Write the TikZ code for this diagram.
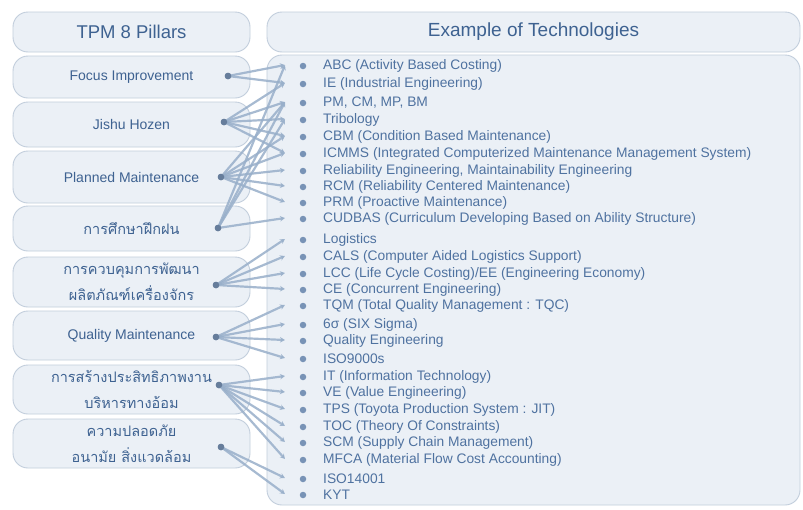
\documentclass[tikz,border=0pt]{standalone}
\usepackage{fontspec}
\setmainfont{Liberation Sans}
\newfontfamily\thaifont[Script=Thai]{Loma}
\usetikzlibrary{arrows.meta}
\definecolor{boxfill}{HTML}{EBF0F6}
\definecolor{boxline}{HTML}{C2CEDC}
\definecolor{headtext}{HTML}{3E6291}
\definecolor{itemtext}{HTML}{4F72A0}
\definecolor{linkc}{HTML}{98AFCA}
\definecolor{dotc}{HTML}{7893B6}
\tikzset{
  pillar/.style={draw=boxline, fill=boxfill, line width=0.9pt, rounded corners=15pt,
    minimum width=237pt, inner sep=0pt, text=headtext, align=center,
    font=\fontsize{14}{16}\selectfont},
  thaibox/.style={pillar, font=\thaifont\fontsize{14.5}{26}\selectfont},
  headbox/.style={pillar, font=\fontsize{18.5}{21}\selectfont},
  item/.style={anchor=west, inner sep=0pt, text=itemtext, font=\fontsize{13.8}{15}\selectfont},
  bulletdot/.style={circle, fill=dotc, minimum size=6.5pt, inner sep=0pt},
  pdot/.style={circle, fill=dotc!85!black, minimum size=6.5pt, inner sep=0pt},
  link/.style={draw=linkc, line width=2.2pt, opacity=0.85, -{Stealth[length=5pt,width=5.5pt]}}
}
\begin{document}
\begin{tikzpicture}[x=1pt,y=-1pt]
\useasboundingbox (0,0) rectangle (803,509);
\fill[white] (0,0) rectangle (803,509);
% right panels
\node[headbox, font=\fontsize{19}{21}\selectfont, minimum width=533pt, minimum height=40pt] (hr) at (533.5,32) {Example of Technologies};
\node[pillar, minimum width=533pt, minimum height=450pt] (body) at (533.5,280) {};
% left panels
\node[headbox, minimum height=40pt] (hl) at (131.5,32) {TPM 8 Pillars};
\node[pillar, minimum height=42pt] (p1) at (131.5,77) {Focus Improvement};
\node[pillar, minimum height=45pt] (p2) at (131.5,124.5) {Jishu Hozen};
\node[pillar, minimum height=52pt] (p3) at (131.5,177) {Planned Maintenance};
\node[thaibox, minimum height=45pt] (p4) at (131.5,228.5) {การศึกษาฝึกฝน};
\node[thaibox, minimum height=50pt] (p5) at (131.5,282) {การควบคุมการพัฒนา\\ผลิตภัณฑ์เครื่องจักร};
\node[pillar, minimum height=49pt] (p6) at (131.5,335.5) {Quality Maintenance};
\node[thaibox, minimum height=49pt] (p7) at (131.5,389.5) {การสร้างประสิทธิภาพงาน\\บริหารทางอ้อม};
\node[thaibox, minimum height=49pt] (p8) at (131.5,443.5) {ความปลอดภัย\\อนามัย สิ่งแวดล้อม};
% items
\foreach \n/\y/\t in {
  abc/66/{ABC (Activity Based Costing)},
  ie/84/{IE (Industrial Engineering)},
  pm/103/{PM, CM, MP, BM},
  trib/120/{Tribology},
  cbm/137/{CBM (Condition Based Maintenance)},
  icmms/154/{ICMMS (Integrated Computerized Maintenance Management System)},
  rel/171/{Reliability Engineering, Maintainability Engineering},
  rcm/187/{RCM (Reliability Centered Maintenance)},
  prm/203/{PRM (Proactive Maintenance)},
  cudbas/219/{CUDBAS (Curriculum Developing Based on Ability Structure)},
  log/240/{Logistics},
  cals/257/{CALS (Computer Aided Logistics Support)},
  lcc/274/{LCC (Life Cycle Costing)/EE (Engineering Economy)},
  ce/290/{CE (Concurrent Engineering)},
  tqm/306/{TQM (Total Quality Management : TQC)},
  six/325/{6σ (SIX Sigma)},
  qe/341/{Quality Engineering},
  isoa/359/{ISO9000s},
  it/377/{IT (Information Technology)},
  ve/393/{VE (Value Engineering)},
  tps/410/{TPS (Toyota Production System : JIT)},
  toc/427/{TOC (Theory Of Constraints)},
  scm/443/{SCM (Supply Chain Management)},
  mfca/460/{MFCA (Material Flow Cost Accounting)},
  isob/479/{ISO14001},
  kyt/495/{KYT}}{
  \node[bulletdot] (\n-b) at (303,\y) {};
  \node[item] (\n) at (323,\y) {\t};
  \coordinate (\n-e) at (285,\y-1);
}
% pillar dots
\node[pdot] (d1) at (228,76) {};
\node[pdot] (d2) at (224,122) {};
\node[pdot] (d3) at (221,177) {};
\node[pdot] (d4) at (218,228) {};
\node[pdot] (d5) at (216,285) {};
\node[pdot] (d6) at (216,337) {};
\node[pdot] (d7) at (219,385) {};
\node[pdot] (d8) at (221,447) {};
% links
\foreach \s/\ts in {
  d1/{abc,ie},
  d2/{ie,pm,trib,cbm,icmms},
  d3/{pm,cbm,icmms,rel,rcm,prm},
  d4/{abc,pm,trib,cudbas},
  d5/{log,cals,lcc,ce},
  d6/{tqm,six,qe,isoa},
  d7/{it,ve,tps,toc,scm,mfca},
  d8/{isob,kyt}}{
  \foreach \t in \ts { \draw[link] (\s.center) -- (\t-e); }
}
\foreach \i in {1,...,8} { \node[pdot] at (d\i) {}; }
\end{tikzpicture}
\end{document}
